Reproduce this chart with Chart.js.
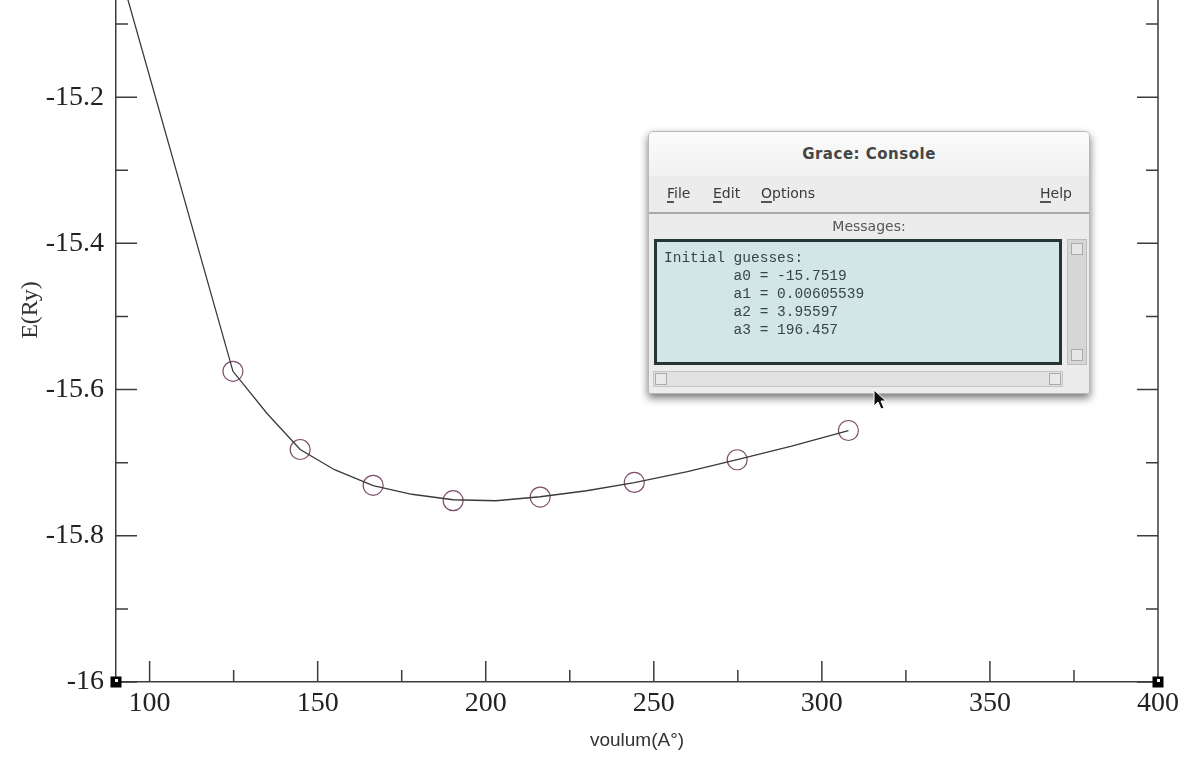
<!DOCTYPE html>
<html>
<head>
<meta charset="utf-8">
<script src="https://cdn.jsdelivr.net/npm/chart.js@4.4.1/dist/chart.umd.min.js"></script>
<style>
  html, body { margin:0; padding:0; background:#fff; }
  #wrap { position:relative; width:1185px; height:758px; overflow:hidden; background:#fff; }
  #c { position:absolute; left:0; top:0; }
  #win { position:absolute; left:648px; top:131px; width:442px; height:263px;
         background:#ececec; border:1px solid #b8b8b8; border-radius:5px 5px 2px 2px;
         box-shadow:0 4px 9px rgba(0,0,0,0.55); box-sizing:border-box; overflow:hidden;
         font-family:"DejaVu Sans", sans-serif; color:#333; }
  #tb { position:absolute; left:0; top:0; width:100%; height:44px;
        background:linear-gradient(#fbfbfb,#f1f1f1); border-bottom:1px solid #d4d4d4;
        text-align:center; line-height:44px; font-weight:bold; font-size:15px; letter-spacing:0.5px; color:#454545; }
  #mb { position:absolute; left:0; top:44px; width:100%; height:36px; background:#ececec;
        border-bottom:2px solid #a9a9a9; font-size:14px; }
  #mb span { position:absolute; top:9px; color:#3a3a3a; }
  #mb u { text-decoration:none; border-bottom:2px solid #555; }
  #msg { position:absolute; left:0; top:82px; width:100%; height:25px; text-align:center;
         font-size:14px; line-height:25px; color:#555; }
  #ta { position:absolute; left:5px; top:107px; width:408px; height:126px; box-sizing:border-box;
        border:3px solid #263535; background:#d2e6e7; }
  #ta pre { margin:0; position:absolute; left:7px; top:7px; font-family:"Liberation Mono", monospace;
            font-size:14.5px; line-height:18px; color:#3a4444; }
  #vs { position:absolute; left:418px; top:107px; width:20px; height:126px; background:#d6d6d6;
        border:1px solid #bdbdbd; box-sizing:border-box; }
  #vs .a { position:absolute; left:3px; width:12px; height:12px; border:1px solid #aaa; background:#e6e6e6; box-sizing:border-box; }
  #hs { position:absolute; left:4px; top:239px; width:410px; height:16px; background:#e2e2e2;
        border:1px solid #c4c4c4; box-sizing:border-box; }
  #hs .a { position:absolute; top:1px; width:12px; height:12px; border:1px solid #aaa; background:#e9e9e9; box-sizing:border-box; }
  #cur { position:absolute; left:873px; top:389px; }
</style>
</head>
<body>
<div id="wrap">
  <canvas id="c" width="1185" height="758"></canvas>
  <div id="win">
    <div id="tb">Grace: Console</div>
    <div id="mb">
      <span style="left:18px"><u>F</u>ile</span>
      <span style="left:64px"><u>E</u>dit</span>
      <span style="left:112px"><u>O</u>ptions</span>
      <span style="left:391px"><u>H</u>elp</span>
    </div>
    <div id="msg">Messages:</div>
    <div id="ta"><pre>Initial guesses:
        a0 = -15.7519
        a1 = 0.00605539
        a2 = 3.95597
        a3 = 196.457</pre></div>
    <div id="vs"><div class="a" style="top:3px"></div><div class="a" style="bottom:3px"></div></div>
    <div id="hs"><div class="a" style="left:1px"></div><div class="a" style="right:1px"></div></div>
  </div>
  <svg id="cur" width="16" height="22" viewBox="0 0 16 22">
    <path d="M1 1 L1 17 L5 13 L8 20 L11 19 L8 12 L13 12 Z" fill="#111" stroke="#fff" stroke-width="1"/>
  </svg>
</div>
<script>
// ---- data ----
const volumes   = [124.8, 144.8, 166.5, 190.3, 216.2, 244.2, 274.8, 307.9];
const energies  = [-15.575, -15.682, -15.731, -15.752, -15.747, -15.727, -15.696, -15.656];
const fitX      = [90, 124.8, 135, 144.8, 155, 166.5, 178, 190.3, 203, 216.2, 230, 244.2, 260, 274.8, 291, 307.9];
const fitY      = [-15.009, -15.575, -15.633, -15.682, -15.7096, -15.7315, -15.7432, -15.7507, -15.7521, -15.7466, -15.7384, -15.7274, -15.7123, -15.6959, -15.6774, -15.6562];
const xMajorTicks = [100, 150, 200, 250, 300, 350, 400];
const xMinorTicks = [125, 175, 225, 275, 325, 375];
const yMajorTicks = [-16, -15.8, -15.6, -15.4, -15.2];
const yMinorTicks = [-15.9, -15.7, -15.5, -15.3, -15.1];
const xTitle = 'voulum(A°)';
const yTitle = 'E(Ry)';

const AX = '#3c3c3c';

const gracePlugin = {
  id: 'grace',
  afterDraw(chart) {
    const ctx = chart.ctx;
    const {left, right, top, bottom} = chart.chartArea;
    const xs = chart.scales.x, ys = chart.scales.y;
    ctx.save();
    ctx.strokeStyle = AX;
    ctx.lineWidth = 1.5;
    ctx.beginPath();
    ctx.moveTo(right, top); ctx.lineTo(right, bottom);
    xMajorTicks.forEach(v => { const p = xs.getPixelForValue(v); ctx.moveTo(p, bottom); ctx.lineTo(p, bottom - 21); });
    xMinorTicks.forEach(v => { const p = xs.getPixelForValue(v); ctx.moveTo(p, bottom); ctx.lineTo(p, bottom - 12); });
    yMajorTicks.forEach(v => { const p = ys.getPixelForValue(v);
      ctx.moveTo(left, p); ctx.lineTo(left + 21, p); ctx.moveTo(right, p); ctx.lineTo(right - 21, p); });
    yMinorTicks.forEach(v => { const p = ys.getPixelForValue(v);
      ctx.moveTo(left, p); ctx.lineTo(left + 12, p); ctx.moveTo(right, p); ctx.lineTo(right - 12, p); });
    ctx.stroke();
    // focus markers at the corners
    ctx.fillStyle = '#000';
    [[left, bottom], [right, bottom]].forEach(([px, py]) => {
      ctx.fillRect(px - 5.5, py - 5.5, 11, 11);
      ctx.fillStyle = '#fff'; ctx.fillRect(px - 1, py - 3, 3, 3); ctx.fillStyle = '#000';
    });
    // y title
    ctx.translate(31, 310);
    ctx.rotate(-Math.PI / 2);
    ctx.font = '24px "Liberation Serif"';
    ctx.fillStyle = '#333';
    ctx.textAlign = 'center';
    ctx.textBaseline = 'middle';
    ctx.fillText(yTitle, 0, 0);
    ctx.restore();
  }
};

function noPad(s) { s.paddingTop = 0; s.paddingBottom = 0; s.paddingLeft = 0; s.paddingRight = 0; }

new Chart(document.getElementById('c'), {
  type: 'scatter',
  data: {
    datasets: [
      { label: 'fit', data: fitX.map((v, i) => ({x: v, y: fitY[i]})), showLine: true,
        borderColor: '#3a3a3a', borderWidth: 1.3, pointRadius: 0, tension: 0, fill: false },
      { label: 'E', data: volumes.map((v, i) => ({x: v, y: energies[i]})), showLine: false,
        pointStyle: 'circle', pointRadius: 10, borderWidth: 1.2, borderColor: '#7e4f6c',
        backgroundColor: 'rgba(0,0,0,0)' }
    ]
  },
  options: {
    responsive: false,
    animation: false,
    events: [],
    layout: { autoPadding: false, padding: { left: 0, right: 27, top: 0, bottom: 0 } },
    plugins: { legend: { display: false }, tooltip: { enabled: false } },
    scales: {
      x: {
        type: 'linear', min: 90, max: 400,
        afterBuildTicks: s => { s.ticks = xMajorTicks.map(v => ({value: v})); },
        afterFit: s => { s.height = 76; noPad(s); },
        grid: { display: false, drawTicks: false },
        border: { display: true, color: AX, width: 1.5 },
        ticks: { padding: 5, color: '#222', font: { family: 'Liberation Serif', size: 28 },
                 maxRotation: 0, autoSkip: false, callback: v => String(v) },
        title: { display: true, text: xTitle, color: '#333',
                 font: { family: 'Liberation Sans', size: 19 }, padding: { top: 0, bottom: 6 } }
      },
      y: {
        type: 'linear', min: -16, max: -15.0671,
        afterBuildTicks: s => { s.ticks = yMajorTicks.map(v => ({value: v})); },
        afterFit: s => { s.width = 116; noPad(s); },
        grid: { display: false, drawTicks: false },
        border: { display: true, color: AX, width: 1.5 },
        ticks: { padding: 12, color: '#222', font: { family: 'Liberation Serif', size: 28 },
                 autoSkip: false, callback: v => String(v) }
      }
    }
  },
  plugins: [gracePlugin]
});
</script>
</body>
</html>
